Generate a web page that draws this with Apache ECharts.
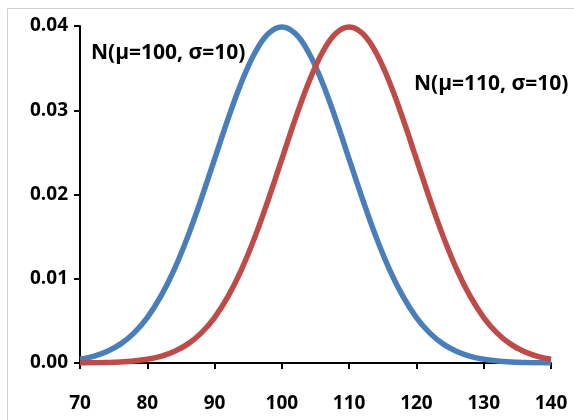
<!DOCTYPE html>
<html>
<head>
<meta charset="utf-8">
<style>
  html, body { margin: 0; padding: 0; background: #fff; }
  #chart { width: 574px; height: 420px; }
</style>
<script src="https://cdn.jsdelivr.net/npm/echarts@6/dist/echarts.min.js"></script>
</head>
<body>
<div id="chart"></div>
<script>
// x positions of the sampled points
const xValues = [70, 72, 74, 76, 78, 80, 82, 84, 86, 88, 90, 92, 94, 96, 98, 100,
  102, 104, 106, 108, 110, 112, 114, 116, 118, 120, 122, 124, 126, 128, 130,
  132, 134, 136, 138, 140];

// density of N(100, 10)
const densityMu100 = [0.00044, 0.00079, 0.00136, 0.00224, 0.00355, 0.00540, 0.00790,
  0.01109, 0.01497, 0.01942, 0.02420, 0.02897, 0.03332, 0.03683, 0.03910, 0.03989,
  0.03910, 0.03683, 0.03332, 0.02897, 0.02420, 0.01942, 0.01497, 0.01109, 0.00790,
  0.00540, 0.00355, 0.00224, 0.00136, 0.00079, 0.00044, 0.00024, 0.00012, 0.00006,
  0.00003, 0.00001];

// density of N(110, 10)
const densityMu110 = [0.00001, 0.00003, 0.00006, 0.00012, 0.00024, 0.00044, 0.00079,
  0.00136, 0.00224, 0.00355, 0.00540, 0.00790, 0.01109, 0.01497, 0.01942, 0.02420,
  0.02897, 0.03332, 0.03683, 0.03910, 0.03989, 0.03910, 0.03683, 0.03332, 0.02897,
  0.02420, 0.01942, 0.01497, 0.01109, 0.00790, 0.00540, 0.00355, 0.00224, 0.00136,
  0.00079, 0.00044];

const yTicks = [0, 0.01, 0.02, 0.03, 0.04];

const FONT = '"Open Sans", Lato, sans-serif';

const chart = echarts.init(document.getElementById('chart'), null, { renderer: 'canvas' });

chart.setOption({
  animation: false,
  backgroundColor: '#ffffff',
  grid: { left: 80, top: 26, right: 23, bottom: 57 },
  xAxis: {
    type: 'value',
    min: 70,
    max: 140,
    interval: 10,
    axisLine: { show: true, onZero: false, lineStyle: { color: '#000', width: 2 } },
    axisTick: { show: true, length: 6, lineStyle: { color: '#000', width: 2 } },
    axisLabel: { margin: 31, color: '#000', fontFamily: FONT, fontWeight: 'bold', fontSize: 19 },
    splitLine: { show: false }
  },
  yAxis: {
    type: 'value',
    min: yTicks[0],
    max: yTicks[yTicks.length - 1],
    interval: 0.01,
    axisLine: { show: true, lineStyle: { color: '#000', width: 2 } },
    axisTick: { show: true, length: 6, lineStyle: { color: '#000', width: 2 } },
    axisLabel: {
      margin: 12, color: '#000', fontFamily: FONT, fontWeight: 'bold', fontSize: 19,
      formatter: v => v.toFixed(2)
    },
    splitLine: { show: false }
  },
  series: [
    {
      name: 'N(μ=100, σ=10)',
      type: 'line',
      smooth: 0.4,
      symbol: 'none',
      data: xValues.map((x, i) => [x, densityMu100[i]]),
      lineStyle: { color: '#4a7ebb', width: 5.5 },
      z: 2
    },
    {
      name: 'N(μ=110, σ=10)',
      type: 'line',
      smooth: 0.4,
      symbol: 'none',
      data: xValues.map((x, i) => [x, densityMu110[i]]),
      lineStyle: { color: '#be4b48', width: 5.5 },
      z: 3
    }
  ],
  graphic: [
    {
      type: 'rect',
      silent: true,
      shape: { x: 7.5, y: 8.5, width: 700, height: 600 },
      style: { fill: 'none', stroke: '#d0d0d0', lineWidth: 1 }
    },
    {
      type: 'text',
      left: 91, top: 43,
      style: { text: 'N(μ=100, σ=10)', fill: '#000', font: 'bold 21px ' + FONT }
    },
    {
      type: 'text',
      left: 414, top: 74,
      style: { text: 'N(μ=110, σ=10)', fill: '#000', font: 'bold 21px ' + FONT }
    }
  ]
});
</script>
</body>
</html>
